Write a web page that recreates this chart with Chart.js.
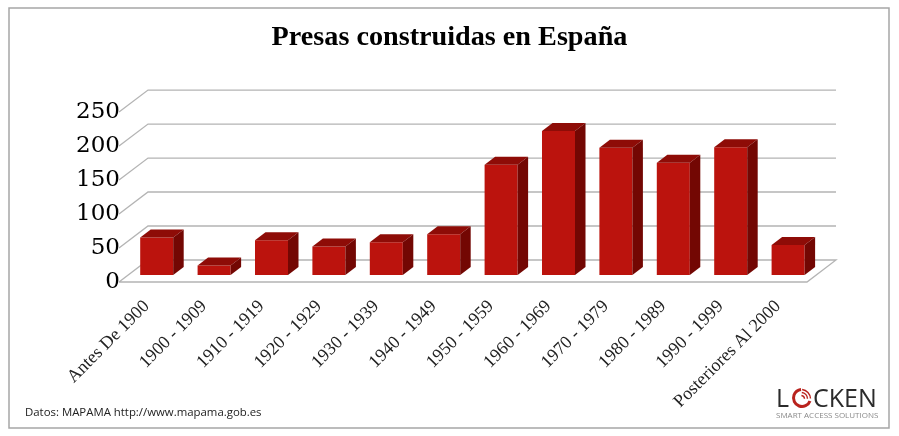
<!DOCTYPE html>
<html>
<head>
<meta charset="utf-8">
<style>
html,body{margin:0;padding:0;background:#fff}
#wrap{position:relative;width:899px;height:436px;overflow:hidden}
</style>
<script src="https://cdn.jsdelivr.net/npm/chart.js@4/dist/chart.umd.min.js"></script>
</head>
<body>
<div id="wrap"><canvas id="chart" width="899" height="436"></canvas></div>
<script>
const labels=['Antes De 1900','1900 - 1909','1910 - 1919','1920 - 1929','1930 - 1939','1940 - 1949','1950 - 1959','1960 - 1969','1970 - 1979','1980 - 1989','1990 - 1999','Posteriores Al 2000'];
const presas=[55,14,51,42,48,60,162,212,187,165,188,44];

// fake 3D: floor, walls and bar sides are drawn around the real scales
const depth={wallX:29,wallY:22,backY:15,barX:10.5,barY:8};

const frame={
  id:'frame',
  beforeDraw(chart){
    const c=chart.ctx;
    c.save();
    c.fillStyle='#fff';c.fillRect(0,0,chart.width,chart.height);
    c.strokeStyle='#a6a6a6';c.lineWidth=1.5;
    c.strokeRect(9,8,880,420);
    c.restore();
  }
};

const walls={
  id:'walls',
  beforeDatasetsDraw(chart){
    const c=chart.ctx,y=chart.scales.y,x=chart.scales.x;
    const left=x.left-9,right=left+688;
    c.save();
    c.strokeStyle='#b4b4b4';c.lineWidth=1.3;
    [0,50,100,150,200,250].forEach(v=>{
      const back=y.getPixelForValue(v)-depth.backY,front=back+depth.wallY;
      c.beginPath();
      c.moveTo(left,front);
      c.lineTo(left+depth.wallX,back);
      c.lineTo(right+depth.wallX,back);
      if(v===0)c.lineTo(right,front),c.lineTo(left,front);
      c.stroke();
    });
    c.restore();
  },
  afterDatasetsDraw(chart){
    const c=chart.ctx;
    chart.getDatasetMeta(0).data.forEach(bar=>{
      const p=bar.getProps(['x','y','base','width'],true);
      const l=p.x-p.width/2,r=p.x+p.width/2;
      c.save();
      c.fillStyle='#8e0c07';
      c.beginPath();
      c.moveTo(l,p.y);c.lineTo(l+depth.barX,p.y-depth.barY);c.lineTo(r+depth.barX,p.y-depth.barY);c.lineTo(r,p.y);c.closePath();c.fill();
      c.fillStyle='#730703';
      c.beginPath();
      c.moveTo(r,p.y);c.lineTo(r+depth.barX,p.y-depth.barY);c.lineTo(r+depth.barX,p.base-depth.barY);c.lineTo(r,p.base);c.closePath();c.fill();
      c.restore();
    });
  }
};

const notes={
  id:'notes',
  afterDraw(chart){
    const c=chart.ctx;
    c.save();
    c.textBaseline='alphabetic';c.textAlign='left';
    c.fillStyle='#222';c.font='11.4px "Open Sans"';
    c.fillText('Datos: MAPAMA http://www.mapama.gob.es',25,416);
    c.fillStyle='#2b2b2b';c.font='25px "Open Sans"';
    c.fillText('L',776,407);
    c.fillText('CKEN',813,407);
    c.strokeStyle='#b9221d';c.lineWidth=3;
    c.beginPath();c.arc(802,398,8.5,.35,4.6);c.stroke();
    c.lineWidth=1.4;
    [3.5,6.5,9.5].forEach(r=>{c.beginPath();c.arc(801,399,r,-1.45,-.05);c.stroke();});
    c.fillStyle='#8a8a8a';c.font='8px "Open Sans"';
    c.fillText('SMART ACCESS SOLUTIONS',776,418);
    c.restore();
  }
};

new Chart(document.getElementById('chart'),{
  type:'bar',
  data:{labels,datasets:[{label:'Presas',data:presas,backgroundColor:'#bb130d',borderWidth:0,barPercentage:.575,categoryPercentage:1,yAxisID:'y'}]},
  options:{
    responsive:false,animation:false,
    plugins:{
      legend:{display:false},tooltip:{enabled:false},
      title:{display:true,text:'Presas construidas en España',color:'#000',font:{family:'"Liberation Serif"',size:28.2,weight:'bold',lineHeight:1.2},padding:{top:21,bottom:57.2}}
    },
    scales:{
      x:{
        grid:{display:false},border:{display:false},
        afterFit(scale){scale.height=154;},
        ticks:{color:'#222',autoSkip:false,maxRotation:45,minRotation:45,padding:6,labelOffset:-10,font:{family:'"Liberation Serif"',size:18}}
      },
      // bars sit 7px above the bottom of the label axis
      y:{display:false,min:-10.29,max:239.71},
      yLabels:{
        position:'left',min:0,max:250,
        grid:{display:false},border:{display:false},
        afterFit(scale){scale.width=128;},
        ticks:{stepSize:50,color:'#000',padding:0,font:{family:'"DejaVu Serif"',size:23}}
      },
      // empty axis only keeps the plot clear of the right margin
      spacer:{
        position:'right',min:0,max:1,
        grid:{display:false},border:{display:false},
        afterFit(scale){scale.width=82.2;},
        ticks:{display:false}
      }
    }
  },
  plugins:[frame,walls,notes]
});
</script>
</body>
</html>
